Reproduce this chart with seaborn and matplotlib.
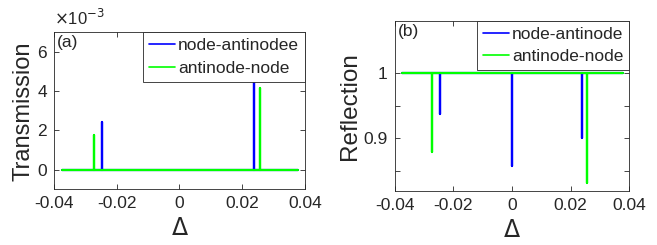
import matplotlib
matplotlib.use("Agg")
import matplotlib.pyplot as plt
import seaborn as sns
import pandas as pd
from matplotlib.ticker import FuncFormatter

# baseline extent of the computed spectra
delta_start = -0.0375
delta_end = 0.0378

# (a) transmission peaks (position, height)
trans_blue_pos = [-0.0246, 0.0239]
trans_blue_peak = [2.45e-3, 5.2e-3]
trans_green_pos = [-0.0271, 0.0258]
trans_green_peak = [1.75e-3, 4.18e-3]
trans_base = 0.0

# (b) reflection dips (position, depth)
refl_blue_pos = [-0.0247, 0.0, 0.0238]
refl_blue_dip = [0.937, 0.858, 0.901]
refl_green_pos = [-0.0273, 0.0255]
refl_green_dip = [0.880, 0.832]
refl_base = 1.0

labels_a = ["node-antinodee", "antinode-node"]
labels_b = ["node-antinode", "antinode-node"]
x_ticks = [-0.04, -0.02, 0, 0.02, 0.04]

BLUE = "#0000ff"
GREEN = "#00ff00"
INK = "#262626"


def spectrum(positions, values, base):
    xs, ys = [delta_start], [base]
    for p, v in sorted(zip(positions, values)):
        xs += [p, p, p]
        ys += [base, v, base]
    xs.append(delta_end)
    ys.append(base)
    return pd.DataFrame({"delta": xs, "value": ys})


sns.set_style("ticks")
plt.rcParams["font.family"] = ["Liberation Sans", "DejaVu Sans"]
plt.rcParams["axes.unicode_minus"] = False
plt.rcParams["text.color"] = INK
plt.rcParams["axes.labelcolor"] = INK
plt.rcParams["xtick.color"] = INK
plt.rcParams["ytick.color"] = INK

fig = plt.figure(figsize=(6.57, 2.45), dpi=100)
ax_a = fig.add_axes([0.0822, 0.2273, 0.382, 0.641])
ax_b = fig.add_axes([0.6008, 0.2216, 0.357, 0.6927])

num_fmt = FuncFormatter(lambda v, _: f"{v:g}")

# (a) Transmission
sns.lineplot(data=spectrum(trans_blue_pos, trans_blue_peak, trans_base), x="delta", y="value",
             sort=False, estimator=None, color=BLUE, lw=1.6, ax=ax_a, label=labels_a[0])
sns.lineplot(data=spectrum(trans_green_pos, trans_green_peak, trans_base), x="delta", y="value",
             sort=False, estimator=None, color=GREEN, lw=1.6, ax=ax_a, label=labels_a[1])
ax_a.set_ylim(-1e-3, 7e-3)
ax_a.set_yticks([0, 2e-3, 4e-3, 6e-3])
ax_a.yaxis.set_major_formatter(FuncFormatter(lambda v, _: f"{v * 1e3:g}"))
ax_a.set_ylabel("Transmission", fontsize=17, labelpad=2)
ax_a.text(0.0, 1.03, r"$\times$10$^{-3}$", transform=ax_a.transAxes, fontsize=12,
          ha="left", va="bottom")
ax_a.text(0.012, 0.985, "(a)", transform=ax_a.transAxes, fontsize=12.5, ha="left", va="top")

# (b) Reflection
sns.lineplot(data=spectrum(refl_blue_pos, refl_blue_dip, refl_base), x="delta", y="value",
             sort=False, estimator=None, color=BLUE, lw=1.6, ax=ax_b, label=labels_b[0])
sns.lineplot(data=spectrum(refl_green_pos, refl_green_dip, refl_base), x="delta", y="value",
             sort=False, estimator=None, color=GREEN, lw=1.6, ax=ax_b, label=labels_b[1])
ax_b.set_ylim(0.82, 1.08)
ax_b.set_yticks([0.85, 0.9, 0.95, 1.0])
ax_b.set_yticklabels(["", "0.9", "", "1"])
ax_b.set_ylabel("Reflection", fontsize=17.5, labelpad=2)
ax_b.text(0.012, 0.985, "(b)", transform=ax_b.transAxes, fontsize=12.5, ha="left", va="top")

for ax in (ax_a, ax_b):
    ax.set_xlim(-0.04, 0.04)
    ax.set_xticks(x_ticks)
    ax.xaxis.set_major_formatter(num_fmt)
    ax.set_xlabel(r"$\Delta$", fontsize=17, labelpad=5)
    ax.tick_params(direction="in", length=3.5, width=0.6, labelsize=12.5,
                   top=True, right=True, pad=5)
    for s in ax.spines.values():
        s.set_visible(True)
        s.set_color(INK)
        s.set_linewidth(0.6)
    leg = ax.legend(loc="upper right", borderaxespad=0, fontsize=12.5, handlelength=1.5,
                    handletextpad=0.15, labelspacing=0.4, borderpad=0.35, fancybox=False,
                    framealpha=1)
    leg.get_frame().set_edgecolor(INK)
    leg.get_frame().set_linewidth(0.6)
    for h in leg.get_lines():
        h.set_linewidth(1.2)

fig.savefig("out.png", dpi=100)
